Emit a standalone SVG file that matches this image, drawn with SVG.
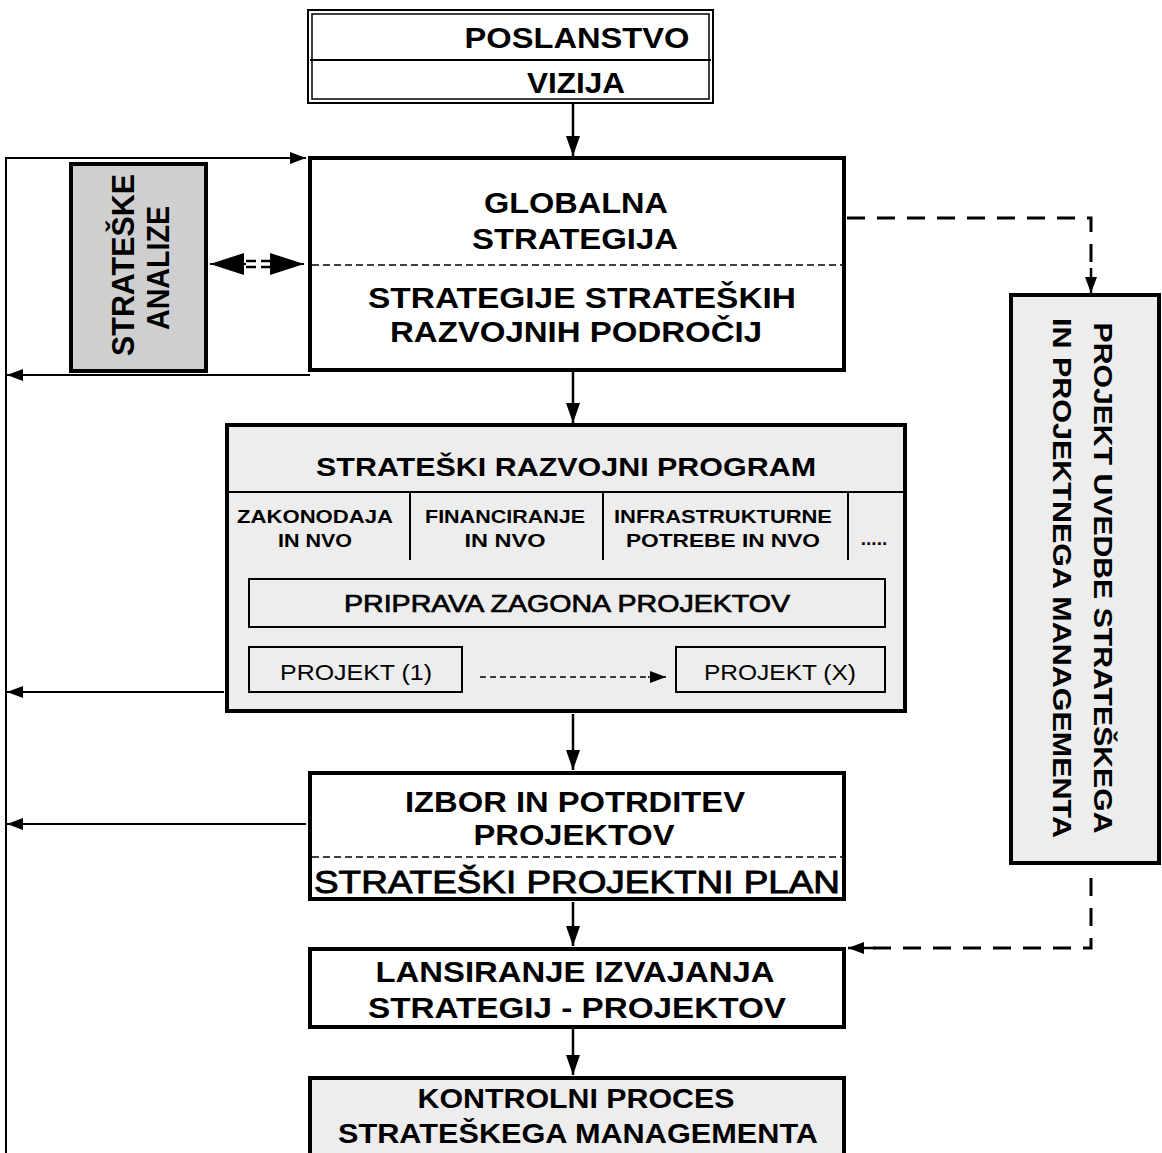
<svg xmlns="http://www.w3.org/2000/svg" width="1162" height="1153" viewBox="0 0 1162 1153">
<defs>
<marker id="ah" viewBox="0 0 20 14" refX="20" refY="7" markerWidth="20" markerHeight="14" orient="auto" markerUnits="userSpaceOnUse"><path d="M0,0 L20,7 L0,14 z" fill="#000"/></marker>
<marker id="ahs" viewBox="0 0 16 12" refX="16" refY="6" markerWidth="16" markerHeight="12" orient="auto" markerUnits="userSpaceOnUse"><path d="M0,0 L16,6 L0,12 z" fill="#000"/></marker>
<marker id="ahb" viewBox="0 0 34 22" refX="34" refY="11" markerWidth="34" markerHeight="22" orient="auto" markerUnits="userSpaceOnUse"><path d="M0,0 L34,11 L0,22 z" fill="#000"/></marker>
</defs>
<style>
.t{font-family:"Liberation Sans",Arial,sans-serif;font-weight:bold;fill:#000;text-anchor:middle}
.n{font-family:"Liberation Sans",Arial,sans-serif;font-weight:normal;fill:#000;text-anchor:middle}
.box{fill:#fff;stroke:#000;stroke-width:4}
.gbox{fill:#ededed;stroke:#000;stroke-width:4}
.thin{fill:none;stroke:#000;stroke-width:2}
.ln{fill:none;stroke:#000;stroke-width:2.5}
.dash{fill:none;stroke:#000;stroke-width:3;stroke-dasharray:18 12}
.sdash{fill:none;stroke:#000;stroke-width:1.5;stroke-dasharray:6 4}
</style>
<rect width="1162" height="1153" fill="#fff"/>

<g id="poslanstvo">
<rect x="308" y="10" width="405" height="93" fill="#fff" stroke="#000" stroke-width="2"/>
<rect x="312" y="14" width="397" height="85" fill="none" stroke="#000" stroke-width="1.5"/>
<line x1="310" y1="60" x2="711" y2="60" stroke="#000" stroke-width="2"/>
<text class="t" x="577" y="48" font-size="29" textLength="225" lengthAdjust="spacingAndGlyphs">POSLANSTVO</text>
<text class="t" x="576" y="93" font-size="29" textLength="98" lengthAdjust="spacingAndGlyphs">VIZIJA</text>
</g>

<g id="globalna">
<rect class="box" x="310" y="158" width="534" height="212"/>
<line x1="312" y1="265" x2="842" y2="265" stroke="#000" stroke-width="1.5" stroke-dasharray="7 4"/>
<text class="t" x="576" y="213" font-size="29" textLength="184" lengthAdjust="spacingAndGlyphs">GLOBALNA</text>
<text class="t" x="575" y="249" font-size="29" textLength="206" lengthAdjust="spacingAndGlyphs">STRATEGIJA</text>
<text class="t" x="582" y="308" font-size="29" textLength="428" lengthAdjust="spacingAndGlyphs">STRATEGIJE STRATEŠKIH</text>
<text class="t" x="576" y="342" font-size="29" textLength="372" lengthAdjust="spacingAndGlyphs">RAZVOJNIH PODROČIJ</text>
</g>

<g id="analize">
<rect x="71" y="164" width="135" height="207" fill="#cfcfcf" stroke="#000" stroke-width="4"/>
<text class="t" transform="translate(134,265) rotate(-90)" font-size="31" textLength="182" lengthAdjust="spacingAndGlyphs">STRATEŠKE</text>
<text class="t" transform="translate(169,268) rotate(-90)" font-size="31" textLength="124" lengthAdjust="spacingAndGlyphs">ANALIZE</text>
</g>

<g id="program">
<rect class="gbox" x="227" y="425" width="678" height="286" fill="#efefef"/>
<text class="t" x="566" y="476" font-size="25" textLength="500" lengthAdjust="spacingAndGlyphs">STRATEŠKI RAZVOJNI PROGRAM</text>
<line x1="229" y1="492" x2="903" y2="492" stroke="#000" stroke-width="2"/>
<line x1="410" y1="492" x2="410" y2="560" stroke="#000" stroke-width="2"/>
<line x1="603" y1="492" x2="603" y2="560" stroke="#000" stroke-width="2"/>
<line x1="848" y1="492" x2="848" y2="560" stroke="#000" stroke-width="2"/>
<text class="t" x="315" y="523" font-size="19" textLength="156" lengthAdjust="spacingAndGlyphs">ZAKONODAJA</text>
<text class="t" x="315" y="547" font-size="19" textLength="74" lengthAdjust="spacingAndGlyphs">IN NVO</text>
<text class="t" x="505" y="523" font-size="19" textLength="160" lengthAdjust="spacingAndGlyphs">FINANCIRANJE</text>
<text class="t" x="505" y="547" font-size="19" textLength="81" lengthAdjust="spacingAndGlyphs">IN  NVO</text>
<text class="t" x="723" y="523" font-size="19" textLength="218" lengthAdjust="spacingAndGlyphs">INFRASTRUKTURNE</text>
<text class="t" x="723" y="547" font-size="19" textLength="194" lengthAdjust="spacingAndGlyphs">POTREBE IN  NVO</text>
<text class="t" x="874" y="545" font-size="19">.....</text>
<rect x="249" y="579" width="636" height="48" fill="none" stroke="#000" stroke-width="2"/>
<text class="n" x="567" y="612" font-size="24" stroke="#000" stroke-width="0.7" textLength="446" lengthAdjust="spacingAndGlyphs">PRIPRAVA ZAGONA PROJEKTOV</text>
<rect x="249" y="647" width="213" height="45" fill="none" stroke="#000" stroke-width="2"/>
<text class="n" x="356" y="680" font-size="22" textLength="152" lengthAdjust="spacingAndGlyphs">PROJEKT (1)</text>
<rect x="676" y="647" width="209" height="45" fill="none" stroke="#000" stroke-width="2"/>
<text class="n" x="780" y="680" font-size="22" textLength="152" lengthAdjust="spacingAndGlyphs">PROJEKT (X)</text>
</g>

<g id="izbor">
<rect class="box" x="310" y="773" width="534" height="126"/>
<line x1="312" y1="857" x2="842" y2="857" stroke="#000" stroke-width="1.5" stroke-dasharray="7 4"/>
<text class="t" x="575" y="812" font-size="29" textLength="340" lengthAdjust="spacingAndGlyphs">IZBOR IN POTRDITEV</text>
<text class="t" x="574" y="845" font-size="29" textLength="201" lengthAdjust="spacingAndGlyphs">PROJEKTOV</text>
<text class="n" x="577" y="893" font-size="31" stroke="#000" stroke-width="0.9" textLength="526" lengthAdjust="spacingAndGlyphs">STRATEŠKI PROJEKTNI PLAN</text>
</g>

<g id="lansiranje">
<rect class="box" x="310" y="949" width="534" height="78"/>
<text class="t" x="575" y="982" font-size="29" textLength="399" lengthAdjust="spacingAndGlyphs">LANSIRANJE IZVAJANJA</text>
<text class="t" x="577" y="1018" font-size="29" textLength="418" lengthAdjust="spacingAndGlyphs">STRATEGIJ - PROJEKTOV</text>
</g>

<g id="kontrolni">
<rect class="gbox" x="310" y="1078" width="534" height="80" fill="#f3f3f3"/>
<text class="t" x="576" y="1108" font-size="27" textLength="317" lengthAdjust="spacingAndGlyphs">KONTROLNI PROCES</text>
<text class="t" x="578" y="1143" font-size="27" textLength="480" lengthAdjust="spacingAndGlyphs">STRATEŠKEGA MANAGEMENTA</text>
</g>

<g id="projekt-uvedbe">
<rect class="gbox" x="1011" y="295" width="148" height="568" fill="#f0f0f0"/>
<text class="t" transform="translate(1094,578) rotate(90)" font-size="26" textLength="511" lengthAdjust="spacingAndGlyphs">PROJEKT UVEDBE STRATEŠKEGA</text>
<text class="t" transform="translate(1053,578) rotate(90)" font-size="26" textLength="520" lengthAdjust="spacingAndGlyphs">IN PROJEKTNEGA MANAGEMENTA</text>
</g>

<g id="connectors">
<line class="ln" x1="573" y1="104" x2="573" y2="156" marker-end="url(#ah)"/>
<line class="ln" x1="573" y1="372" x2="573" y2="423" marker-end="url(#ah)"/>
<line class="ln" x1="573" y1="714" x2="573" y2="770" marker-end="url(#ah)"/>
<line class="ln" x1="573" y1="902" x2="573" y2="946" marker-end="url(#ah)"/>
<line class="ln" x1="573" y1="1029" x2="573" y2="1075" marker-end="url(#ah)"/>
<line class="thin" x1="6" y1="157" x2="6" y2="1153"/>
<line class="thin" x1="6" y1="158" x2="306" y2="158" marker-end="url(#ahs)"/>
<line class="thin" x1="310" y1="375" x2="7" y2="375" marker-end="url(#ahs)"/>
<line class="thin" x1="224" y1="692" x2="7" y2="692" marker-end="url(#ahs)"/>
<line class="thin" x1="306" y1="824" x2="7" y2="824" marker-end="url(#ahs)"/>
<polyline class="dash" points="847,218 1091,218 1091,270"/>
<line class="ln" x1="1091" y1="268" x2="1091" y2="293" marker-end="url(#ahs)"/>
<polyline class="dash" points="1091,878 1091,948 870,948"/>
<line class="ln" x1="875" y1="948" x2="848" y2="948" marker-end="url(#ahs)"/>
<g id="analize-link">
<line x1="246" y1="264" x2="210" y2="264" stroke="#000" stroke-width="2" marker-end="url(#ahb)"/>
<line x1="246" y1="261" x2="256" y2="261" stroke="#000" stroke-width="2.5"/>
<line x1="246" y1="267" x2="256" y2="267" stroke="#000" stroke-width="2.5"/>
<line x1="261" y1="261" x2="272" y2="261" stroke="#000" stroke-width="2.5"/>
<line x1="261" y1="267" x2="272" y2="267" stroke="#000" stroke-width="2.5"/>
<line x1="270" y1="264" x2="304" y2="264" stroke="#000" stroke-width="2" marker-end="url(#ahb)"/>
</g>
<line class="sdash" x1="480" y1="677" x2="652" y2="677"/>
<line x1="648" y1="677" x2="666" y2="677" stroke="#000" stroke-width="1.5" marker-end="url(#ahs)"/>
</g>
</svg>
